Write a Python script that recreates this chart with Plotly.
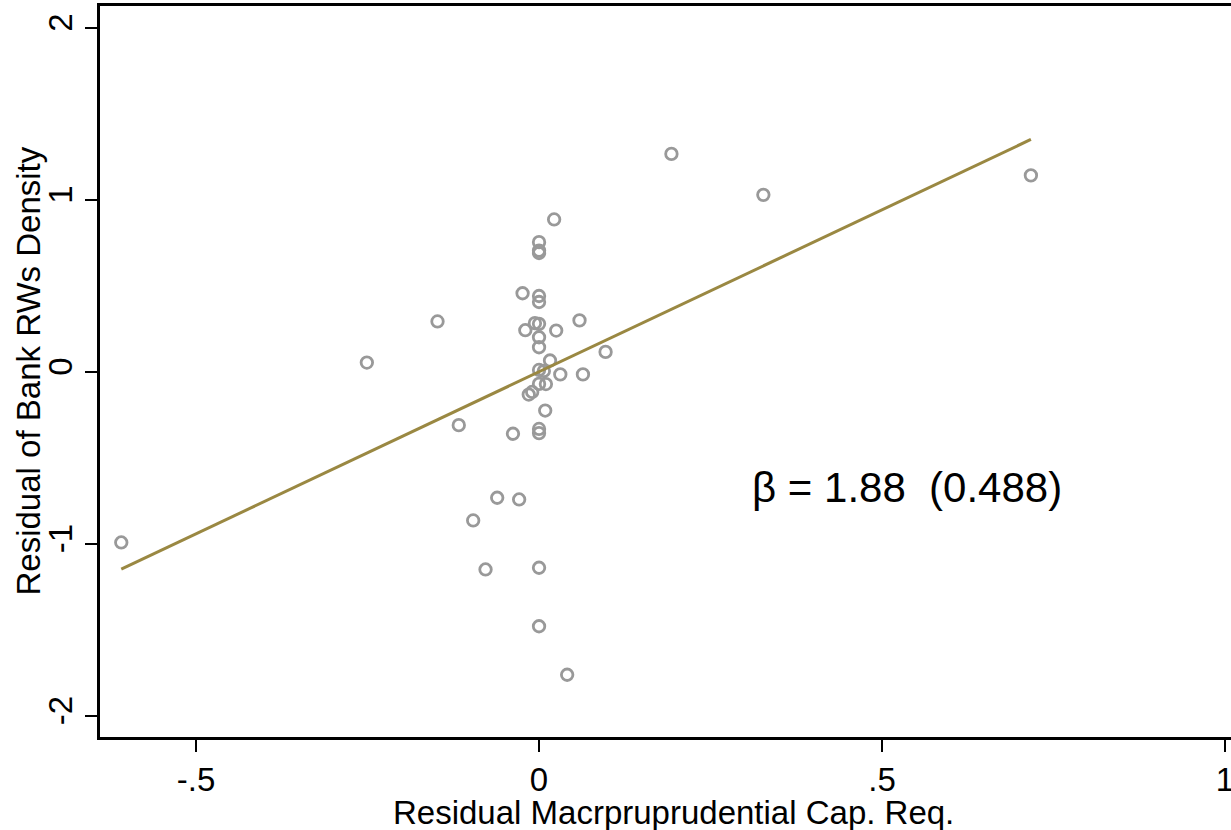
import plotly.graph_objects as go

# Residual Macroprudential Cap. Req. (x) and Residual of Bank RWs Density (y)
x_resid = [-0.609, -0.251, -0.148, -0.117, -0.096, -0.078, -0.061, -0.038, -0.029,
           -0.024, -0.020, -0.015, -0.010, -0.006, 0.000, 0.000, 0.000, 0.000,
           0.000, 0.000, 0.000, 0.000, 0.000, 0.000, 0.000, 0.000, 0.000, 0.000,
           0.007, 0.009, 0.010, 0.016, 0.022, 0.025, 0.031, 0.041, 0.059, 0.064,
           0.097, 0.193, 0.327, 0.717]
y_resid = [-0.994, 0.052, 0.291, -0.312, -0.866, -1.151, -0.734, -0.362, -0.744,
           0.455, 0.240, -0.134, -0.119, 0.281, 0.752, 0.703, 0.689, 0.439,
           0.404, 0.277, 0.199, 0.141, 0.009, -0.072, -0.334, -0.358, -1.141, -1.481,
           0.003, -0.227, -0.073, 0.064, 0.884, 0.238, -0.017, -1.763, 0.297, -0.017,
           0.114, 1.265, 1.027, 1.140]

# Fitted regression line endpoints
fit_x = [-0.609, 0.717]
fit_y = [-1.149, 1.349]

x_ticks = [-0.5, 0, 0.5, 1]
x_tick_labels = ["-.5", "0", ".5", "1"]
y_ticks = [-2, -1, 0, 1, 2]
y_tick_labels = ["-2", "-1", "0", "1", "2"]

x_title = "Residual Macrpruprudential Cap. Req."
y_title = "Residual of Bank RWs Density"
beta_text = "β = 1.88\u00a0\u00a0(0.488)"

FONT = "Liberation Sans, Arial, sans-serif"

fig = go.Figure()
fig.add_trace(go.Scatter(
    x=x_resid, y=y_resid, mode="markers",
    marker=dict(symbol="circle-open", size=11.5, color="#999999",
                line=dict(width=2.8, color="#999999")),
    showlegend=False, hoverinfo="skip"))
fig.add_trace(go.Scatter(
    x=fit_x, y=fit_y, mode="lines",
    line=dict(color="#9a8842", width=3),
    showlegend=False, hoverinfo="skip"))

fig.add_annotation(x=0.307, y=-0.674, xref="x", yref="y", text=beta_text,
                   showarrow=False, xanchor="left", yanchor="middle",
                   font=dict(family=FONT, size=42, color="black"))

# axis titles
fig.add_annotation(x=0.5075, y=0, xref="paper", yref="paper", text=x_title,
                   showarrow=False, xanchor="center", yanchor="middle", yshift=-75,
                   font=dict(family=FONT, size=33, color="black"))
fig.add_annotation(x=0, y=0.5, xref="paper", yref="paper", text=y_title,
                   showarrow=False, xanchor="center", yanchor="middle", xshift=-72,
                   textangle=-90, font=dict(family=FONT, size=33, color="black"))

fig.update_layout(
    width=1231, height=830,
    margin=dict(l=100, r=0, t=6, b=93, pad=0),
    paper_bgcolor="white", plot_bgcolor="white",
    font=dict(family=FONT, size=33, color="black"),
    xaxis=dict(range=[-0.64, 1.0087], tickvals=x_ticks, ticktext=x_tick_labels,
               ticks="outside", ticklen=12, tickwidth=2, tickcolor="black",
               showline=True, linewidth=2.5, linecolor="black", mirror=True,
               showgrid=False, zeroline=False, automargin=False,
               ticklabeloverflow="allow",
               tickfont=dict(size=33)),
    yaxis=dict(range=[-2.125, 2.125], tickvals=y_ticks, ticktext=y_tick_labels,
               ticks="outside", ticklen=12, tickwidth=2, tickcolor="black",
               showline=True, linewidth=2.5, linecolor="black",
               showgrid=False, zeroline=False, tickangle=-90, automargin=False,
               tickfont=dict(size=33)),
)

fig.write_html("out.html", config={"displayModeBar": False},
               post_script="document.body.style.margin='0';document.body.style.overflow='hidden';")
